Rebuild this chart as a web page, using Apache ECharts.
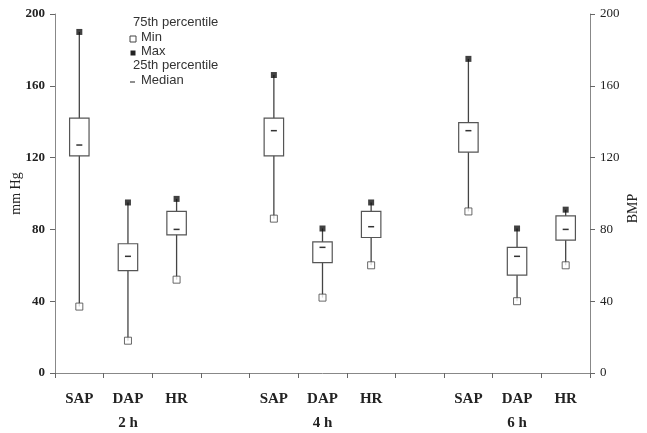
<!DOCTYPE html>
<html>
<head>
<meta charset="utf-8">
<script src="https://cdn.jsdelivr.net/npm/echarts@6/dist/echarts.min.js"></script>
<style>
html, body { margin: 0; padding: 0; background: #fff; }
#container { width: 647px; height: 433px; }
</style>
</head>
<body>
<div id="container"></div>
<script>
// categories along x; empty slots separate the time groups
var categories = ['SAP', 'DAP', 'HR', '', 'SAP', 'DAP', 'HR', '', 'SAP', 'DAP', 'HR'];
var groupLabels = ['', '2 h', '', '', '', '4 h', '', '', '', '6 h', ''];

// per box: category index, min, q1 (25th), median, q3 (75th), max
var minVals    = [37, 18, 52, 86, 42, 60, 90, 40, 60];
var q1Vals     = [121, 57, 77, 121, 61.5, 75.5, 123, 54.5, 74];
var medianVals = [127, 65, 80, 135, 70, 81.5, 135, 65, 80];
var q3Vals     = [142, 72, 90, 142, 73, 90, 139.5, 70, 87.5];
var maxVals    = [190, 95, 97, 166, 80.5, 95, 175, 80.5, 91];
var boxIndex   = [0, 1, 2, 4, 5, 6, 8, 9, 10];

var boxData = boxIndex.map(function (c, i) {
  return [c, minVals[i], q1Vals[i], medianVals[i], q3Vals[i], maxVals[i]];
});
var minPoints = boxIndex.map(function (c, i) { return [c, minVals[i]]; });
var maxPoints = boxIndex.map(function (c, i) { return [c, maxVals[i]]; });

var chart = echarts.init(document.getElementById('container'));

function renderBox(params, api) {
  var c = api.value(0);
  var pMin = api.coord([c, api.value(1)]);
  var pQ1 = api.coord([c, api.value(2)]);
  var pMed = api.coord([c, api.value(3)]);
  var pQ3 = api.coord([c, api.value(4)]);
  var pMax = api.coord([c, api.value(5)]);
  var w = api.size([1, 0])[0] * 0.4;
  var x = pQ1[0];
  return {
    type: 'group',
    children: [
      { type: 'line', shape: { x1: x, y1: pMax[1], x2: x, y2: pMin[1] },
        style: { stroke: '#444', lineWidth: 1.3 } },
      { type: 'rect', shape: { x: x - w / 2, y: pQ3[1], width: w, height: pQ1[1] - pQ3[1] },
        style: { fill: '#fff', stroke: '#555', lineWidth: 1.2 } },
      { type: 'line', shape: { x1: x - 3, y1: pMed[1], x2: x + 3, y2: pMed[1] },
        style: { stroke: '#333', lineWidth: 1.5 } }
    ]
  };
}

var serif = '"Liberation Serif", "Times New Roman", serif';
var sans = '"Liberation Sans", Arial, sans-serif';

function legendRow(y, label, icon) {
  var items = [{ type: 'text', left: icon === null ? 133 : 141, top: y - 8,
    style: { text: label, font: '13px ' + sans, fill: '#333' } }];
  if (icon === 'min') {
    items.push({ type: 'rect', shape: { x: 130, y: y - 3, width: 6, height: 6 },
      style: { fill: '#fff', stroke: '#444', lineWidth: 1 } });
  } else if (icon === 'max') {
    items.push({ type: 'rect', shape: { x: 130.5, y: y - 2.5, width: 5, height: 5 },
      style: { fill: '#222' } });
  } else if (icon === 'median') {
    items.push({ type: 'line', shape: { x1: 130, y1: y, x2: 135, y2: y },
      style: { stroke: '#444', lineWidth: 1.2 } });
  }
  return items;
}

var legendGraphics = [].concat(
  legendRow(24, '75th percentile', null),
  legendRow(39, 'Min', 'min'),
  legendRow(53, 'Max', 'max'),
  legendRow(67, '25th percentile', null),
  legendRow(82, 'Median', 'median')
);

var option = {
  animation: false,
  backgroundColor: '#fff',
  grid: { left: 55, right: 57, top: 14, bottom: 60, outerBoundsMode: 'none', containLabel: false },
  graphic: legendGraphics,
  xAxis: [
    {
      type: 'category',
      data: categories,
      boundaryGap: true,
      axisLine: { lineStyle: { color: '#888', width: 1 } },
      axisTick: { show: true, length: 5, lineStyle: { color: '#666' } },
      axisLabel: { margin: 19, color: '#222', fontFamily: serif, fontWeight: 'bold', fontSize: 15 }
    },
    {
      type: 'category',
      data: groupLabels,
      position: 'bottom',
      offset: 24,
      boundaryGap: true,
      axisLine: { show: false },
      axisTick: { show: false },
      axisLabel: { margin: 19, color: '#222', fontFamily: serif, fontWeight: 'bold', fontSize: 15, interval: 0 }
    }
  ],
  yAxis: [
    {
      type: 'value',
      min: 0, max: 200, interval: 40,
      name: 'mm Hg',
      nameLocation: 'middle',
      nameGap: 32,
      nameRotate: 90,
      nameMoveOverlap: false,
      nameTextStyle: { fontFamily: serif, fontSize: 14, color: '#222' },
      axisLine: { show: true, lineStyle: { color: '#888' } },
      axisTick: { show: true, length: 5, lineStyle: { color: '#666' } },
      splitLine: { show: false },
      axisLabel: { margin: 10, color: '#222', fontFamily: serif, fontWeight: 'bold', fontSize: 13 }
    },
    {
      type: 'value',
      min: 0, max: 200, interval: 40,
      position: 'right',
      name: 'BMP',
      nameLocation: 'middle',
      nameGap: 36,
      nameRotate: 90,
      nameMoveOverlap: false,
      nameTextStyle: { fontFamily: serif, fontSize: 14, color: '#222', padding: [0, 30, 0, 0] },
      axisLine: { show: true, lineStyle: { color: '#888' } },
      axisTick: { show: true, length: 5, lineStyle: { color: '#666' } },
      splitLine: { show: false },
      axisLabel: { margin: 10, color: '#222', fontFamily: serif, fontSize: 13 }
    }
  ],
  series: [
    {
      type: 'custom',
      name: 'box',
      renderItem: renderBox,
      encode: { x: 0, y: [1, 2, 3, 4, 5] },
      data: boxData,
      z: 2
    },
    {
      type: 'scatter',
      name: 'Min',
      data: minPoints,
      symbol: 'rect',
      symbolSize: 7,
      itemStyle: { color: '#fff', borderColor: '#444', borderWidth: 1 },
      z: 3
    },
    {
      type: 'scatter',
      name: 'Max',
      data: maxPoints,
      symbol: 'rect',
      symbolSize: 6,
      itemStyle: { color: '#111' },
      z: 3
    }
  ]
};

option && chart.setOption(option);
</script>
</body>
</html>
